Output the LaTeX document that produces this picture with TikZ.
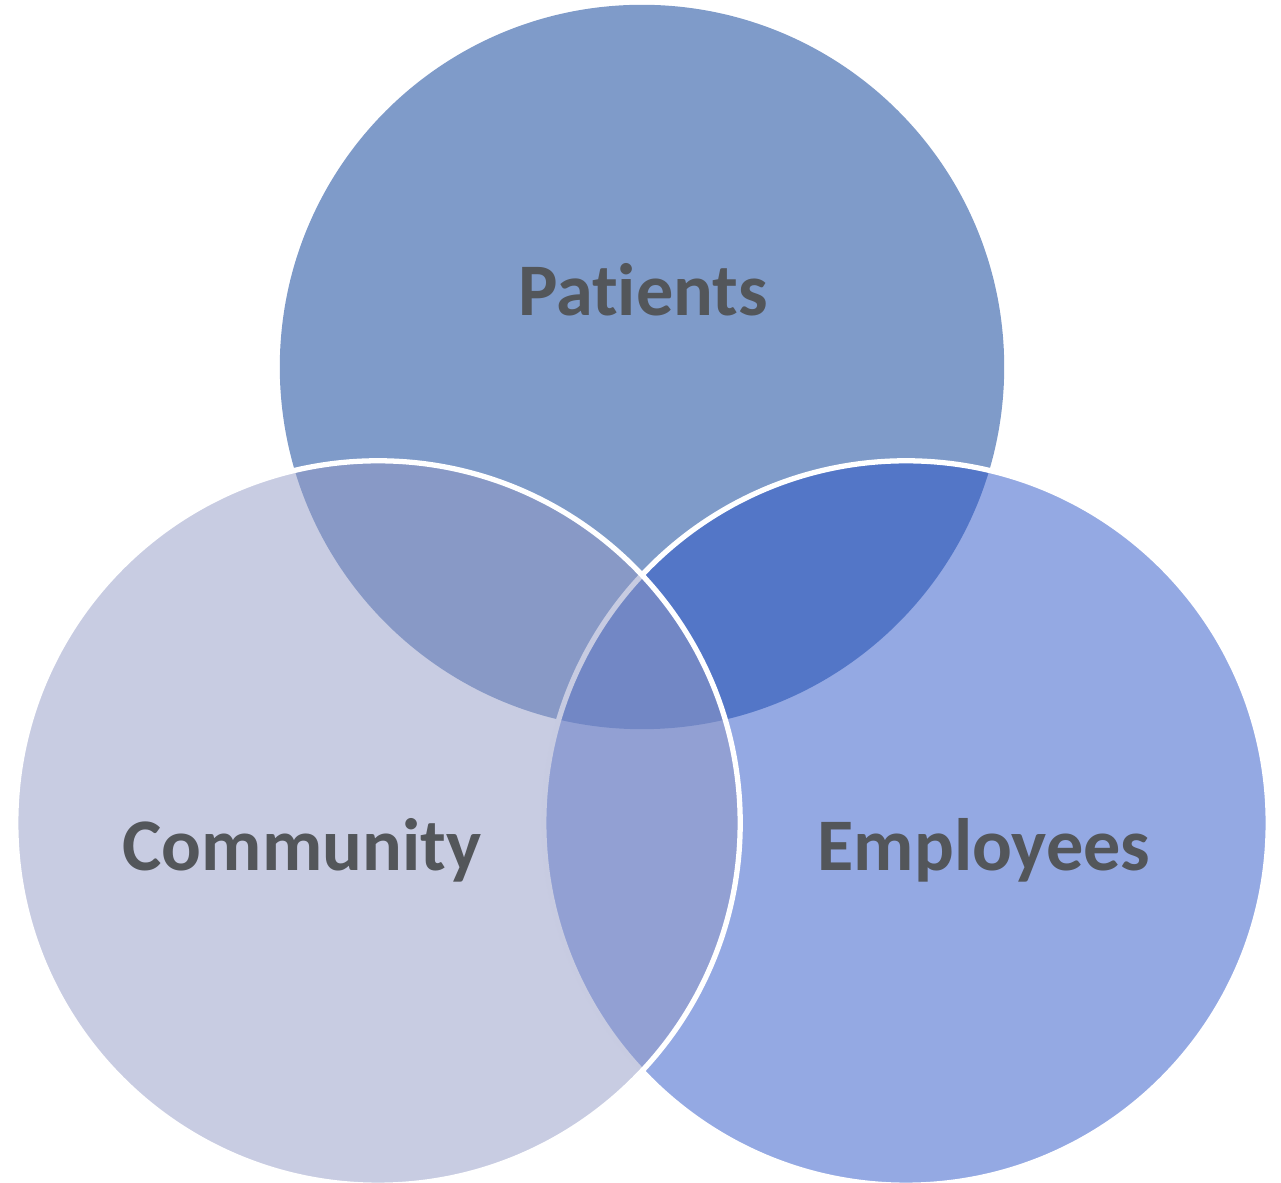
\documentclass[tikz,border=0pt]{standalone}
\usepackage{tikz}
\usepackage{xcolor}
\usepackage{fontspec}
\setmainfont[Ligatures=NoCommon]{Carlito}

\definecolor{patblue}{RGB}{127,155,201}
\definecolor{empblue}{RGB}{41,83,199}
\definecolor{comlilac}{RGB}{145,153,197}
\definecolor{labgray}{RGB}{83,86,90}

\begin{document}
\begin{tikzpicture}[x=0.01cm, y=-0.01cm]
            \useasboundingbox (0, 0) rectangle (1281, 1183);

            % the three sets, drawn back to front
            \node[circle, fill=patblue, inner sep=0pt, minimum size=7.24cm] (sP) at (642, 367) {};
            \node[circle, draw=white, line width=1.5pt, fill=empblue, fill opacity=0.5, inner sep=0pt, minimum size=7.24cm] (sE) at (906, 823) {};
            \node[circle, draw=white, line width=1.5pt, fill=comlilac, fill opacity=0.5, inner sep=0pt, minimum size=7.24cm] (sC) at (378, 823) {};

            % labels
            \node[anchor=base, text=labgray, font=\fontsize{21.1}{25}\selectfont\bfseries] (patients) at (643, 316) {Patients};
            \node[anchor=base, text=labgray, font=\fontsize{21.1}{25}\selectfont\bfseries] (community) at (302, 871) {Community};
            \node[anchor=base, text=labgray, font=\fontsize{21.1}{25}\selectfont\bfseries] (employees) at (984, 871) {Employees};
        \end{tikzpicture}
\end{document}
